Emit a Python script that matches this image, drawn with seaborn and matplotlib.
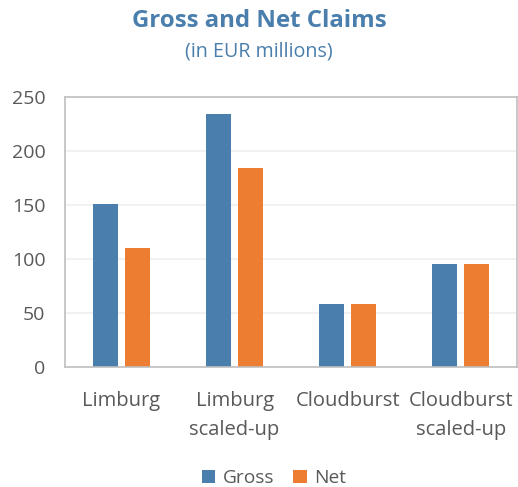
import matplotlib
matplotlib.use("Agg")
import matplotlib.pyplot as plt
import seaborn as sns
import pandas as pd

categories = ["Limburg", "Limburg\nscaled-up", "Cloudburst", "Cloudburst\nscaled-up"]
gross = [151, 235, 59, 96]
net = [110, 185, 59, 96]
series = ["Gross", "Net"]
yticks = [0, 50, 100, 150, 200, 250]

df = pd.DataFrame({
    "category": categories * 2,
    "value": gross + net,
    "series": ["Gross"] * len(categories) + ["Net"] * len(categories),
})

sns.set_theme(style="white")
plt.rcParams["font.family"] = ["Open Sans", "DejaVu Sans"]

text_color = "#595959"
blue = "#4A7EAD"
orange = "#ED7D31"

fig = plt.figure(figsize=(5.18, 4.87), dpi=100)
ax = fig.add_axes([0.1255, 0.2458, 0.873, 0.5544])

sns.barplot(data=df, x="category", y="value", hue="series", hue_order=series,
            palette=[blue, orange], saturation=1, width=0.57, gap=0.22, ax=ax,
            edgecolor="none", linewidth=0)

ax.set_ylim(0, 250)
ax.set_yticks(yticks)
ax.set_xlabel("")
ax.set_ylabel("")
ax.yaxis.grid(True, color="#EFEFEF", linewidth=1.2)
ax.set_axisbelow(True)
for s in ax.spines.values():
    s.set_visible(True)
    s.set_color("#BFBFBF")
    s.set_linewidth(1.2)
ax.tick_params(axis="both", length=0, colors=text_color)
ax.tick_params(axis="y", pad=14, labelsize=14)
ax.tick_params(axis="x", pad=17, labelsize=14.5)
for lbl in ax.get_xticklabels():
    lbl.set_linespacing(1.6)

handles, labels = ax.get_legend_handles_labels()
ax.get_legend().remove()
leg = fig.legend(handles, labels, loc="center", bbox_to_anchor=(274 / 518, 1 - 478 / 487),
                 ncol=2, frameon=False, fontsize=13.8, handlelength=0.7,
                 handleheight=0.7, handletextpad=0.4, columnspacing=1.0)
for t in leg.get_texts():
    t.set_color(text_color)

fig.text(0.5, 1 - 21 / 487, "Gross and Net Claims", ha="center", va="center",
         fontsize=17.3, fontweight="bold", color=blue)
fig.text(0.5, 1 - 51 / 487, "(in EUR millions)", ha="center", va="center",
         fontsize=14.2, color=blue)

fig.savefig("out.png", dpi=100)
